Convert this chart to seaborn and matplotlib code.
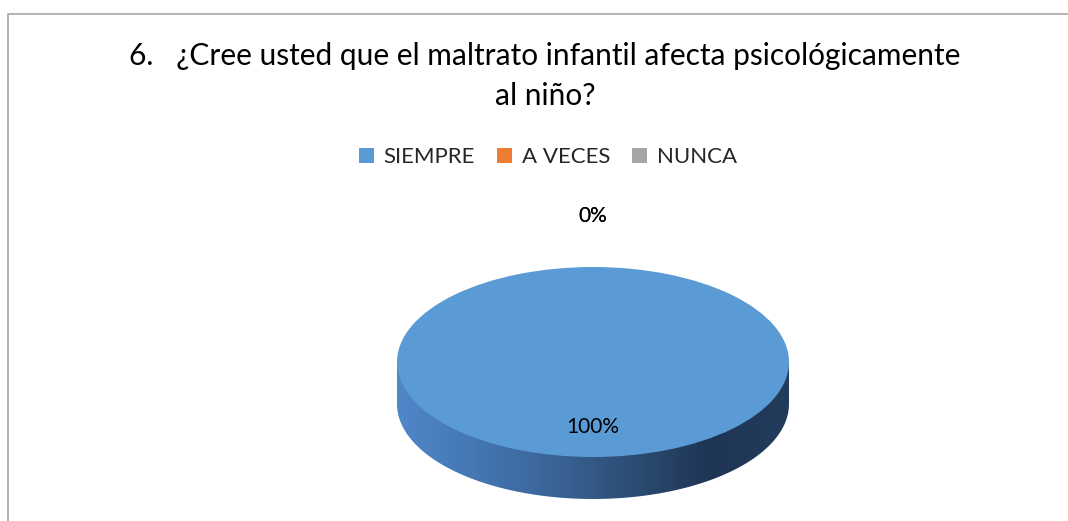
import numpy as np
import matplotlib
matplotlib.use("Agg")
import matplotlib.pyplot as plt
import seaborn as sns
from matplotlib.colors import LinearSegmentedColormap
from matplotlib.patches import Polygon, Rectangle

# ----- DATA -----
categories = ['SIEMPRE', 'A VECES', 'NUNCA']
values = [100, 0, 0]
title = '6.   ¿Cree usted que el maltrato infantil afecta psicológicamente\nal niño?'

sns.set_theme(style="white")
plt.rcParams['font.family'] = ['Lato', 'DejaVu Sans']

colors = sns.color_palette(['#5B9BD5', '#ED7D31', '#A5A5A5'])

fig = plt.figure(figsize=(10.68, 5.21), dpi=100)

# outer chart border (gray frame running off the right/bottom)
fig.patches.append(Rectangle((8 / 1068, -0.05), 1.2, 507 / 521 + 0.05, transform=fig.transFigure,
                             fill=False, edgecolor='#a6a6a6', linewidth=1.2, clip_on=False))

# axes placed so the unit circle becomes a 196 x 95 px ellipse
ax = fig.add_axes([293 / 1068, 0, 600 / 1068, 331 / 521])
rx, ry = 196, 95
depth = 42 / ry

# side of the 3D pie: gradient clipped to the lower half ellipse band
t = np.linspace(np.pi, 2 * np.pi, 200)
side_x = np.concatenate([np.cos(t), [1, -1]])
side_y = np.concatenate([np.sin(t) - depth, [0, 0]])
side = Polygon(np.column_stack([side_x, side_y]), closed=True, facecolor='none', edgecolor='none')
ax.add_patch(side)
side_cmap = LinearSegmentedColormap.from_list('side', ['#5087c8', '#4477b3', '#3a6497', '#2c4d74', '#1f3554', '#233c5c'])
grad = np.linspace(0, 1, 256).reshape(1, -1)
img = ax.imshow(grad, cmap=side_cmap, extent=(-1, 1, -1 - depth, 0), aspect='auto', zorder=1)
img.set_clip_path(side)

# top face
wedges, texts, autotexts = ax.pie(values, colors=colors, startangle=90, counterclock=False,
                                  autopct='%1.0f%%', pctdistance=0.68,
                                  wedgeprops=dict(edgecolor='none', linewidth=0),
                                  textprops=dict(fontsize=15, color='black'))
for w in wedges:
    w.set_zorder(2)
for at, w, v in zip(autotexts, wedges, values):
    at.set_zorder(3)
    if v == 0:
        ang = np.deg2rad((w.theta1 + w.theta2) / 2)
        at.set_position((1.54 * np.cos(ang), 1.54 * np.sin(ang)))

ax.set_aspect('auto')
ax.set_xlim(-300 / rx, 300 / rx)
ax.set_ylim(-159 / ry, (331 - 159) / ry)
ax.axis('off')

fig.text(545 / 1068, 1 - 76 / 521, title, ha='center', va='center', fontsize=21.5,
         linespacing=1.5, color='black')

fig.legend(wedges, categories, loc='center', bbox_to_anchor=(548 / 1068, 1 - 157 / 521), ncol=3,
           frameon=False, fontsize=16, handlelength=0.65, handleheight=0.65, handletextpad=0.45,
           columnspacing=1.0)

fig.savefig('out.png', dpi=100, facecolor='white')
